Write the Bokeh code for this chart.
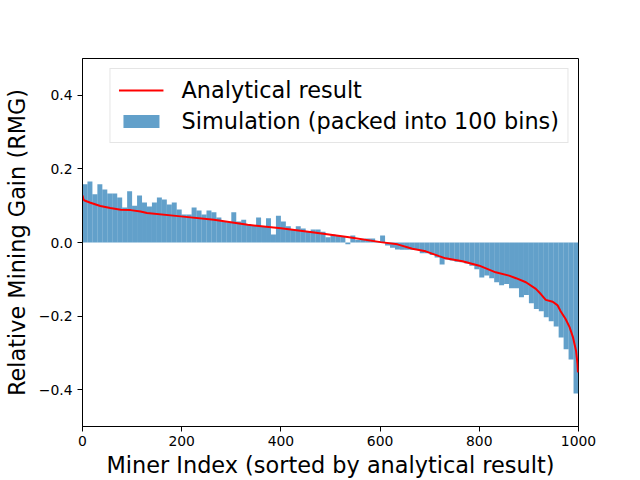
from bokeh.plotting import figure
from bokeh.models import FixedTicker, Range1d, Legend, LegendItem, ColumnDataSource
from bokeh.embed import file_html
from bokeh.resources import INLINE

# ---- data ----
bin_width = 10
bin_values = [
    0.158, 0.166, 0.131, 0.158, 0.144, 0.133, 0.133, 0.122, 0.095, 0.139,
    0.100, 0.128, 0.109, 0.098, 0.109, 0.122, 0.117, 0.103, 0.109, 0.090,
    0.076, 0.076, 0.095, 0.087, 0.076, 0.087, 0.082, 0.068, 0.057, 0.055,
    0.082, 0.057, 0.062, 0.050, 0.045, 0.068, 0.045, 0.066, 0.022, 0.073,
    0.057, 0.044, 0.035, 0.044, 0.038, 0.030, 0.035, 0.035, 0.029, 0.014,
    0.022, 0.019, 0.017, -0.005, 0.019, 0.007, 0.010, 0.011, 0.011, 0.004,
    0.019, -0.008, -0.014, -0.019, -0.020, -0.020, -0.020, -0.020, -0.029, -0.029,
    -0.034, -0.041, -0.060, -0.046, -0.049, -0.052, -0.054, -0.057, -0.063, -0.073,
    -0.095, -0.090, -0.097, -0.108, -0.116, -0.113, -0.124, -0.124, -0.149, -0.143,
    -0.165, -0.181, -0.187, -0.203, -0.214, -0.228, -0.258, -0.290, -0.318, -0.410,
]
bin_centers = [i * bin_width + bin_width / 2 for i in range(len(bin_values))]

line_x = [0, 2, 4, 16, 36, 56, 77, 97, 117, 130, 198, 265, 333, 400, 467, 534,
          601, 635, 665, 692, 719, 732, 766, 800, 833, 860, 874, 894, 914, 924,
          934, 948, 958, 964, 974, 982, 989, 995, 998, 999]
line_y = [0.128, 0.117, 0.114, 0.108, 0.099, 0.094, 0.089, 0.088, 0.084, 0.080,
          0.071, 0.062, 0.048, 0.039, 0.027, 0.015, 0.001, -0.005, -0.017, -0.024,
          -0.037, -0.043, -0.051, -0.063, -0.081, -0.090, -0.097, -0.108, -0.126, -0.140,
          -0.156, -0.161, -0.171, -0.187, -0.208, -0.230, -0.258, -0.294, -0.330, -0.353]

x_ticks = [0, 200, 400, 600, 800, 1000]
y_ticks = [-0.4, -0.2, 0.0, 0.2, 0.4]
y_tick_labels = ["\u22120.4", "\u22120.2", "0.0", "0.2", "0.4"]

FONT = "DejaVu Sans"
BIG = "22.4px"

p = figure(frame_width=496, frame_height=368, output_backend="svg",
           toolbar_location=None, x_range=Range1d(0, 1000), y_range=Range1d(-0.5, 0.5),
           min_border_left=10, min_border_top=58, min_border_right=56, min_border_bottom=10)
p.background_fill_color = "white"
p.border_fill_color = "white"
p.outline_line_color = "black"
p.outline_line_width = 1
p.grid.visible = False

src = ColumnDataSource(dict(x=bin_centers, top=bin_values))
bars = p.vbar(x="x", top="top", bottom=0, width=bin_width, source=src,
              fill_color="#1f77b4", fill_alpha=0.7, line_color=None)
line = p.line(line_x, line_y, line_color="red", line_width=2)

for ax in (p.xaxis[0], p.yaxis[0]):
    ax.major_label_text_font = FONT
    ax.major_label_text_font_size = "13.9px"
    ax.major_label_text_color = "black"
    ax.axis_label_text_font = FONT
    ax.axis_label_text_font_size = BIG
    ax.axis_label_text_font_style = "normal"
    ax.axis_label_text_color = "black"
    ax.minor_tick_line_color = None
    ax.major_tick_in = 0
    ax.major_tick_out = 5
    ax.axis_line_color = "black"
    ax.major_tick_line_color = "black"

p.xaxis.ticker = FixedTicker(ticks=x_ticks)
p.yaxis.ticker = FixedTicker(ticks=y_ticks)
p.yaxis.major_label_overrides = {t: l for t, l in zip(y_ticks, y_tick_labels)}
p.xaxis.axis_label = "Miner Index (sorted by analytical result)"
p.yaxis.axis_label = "Relative Mining Gain (RMG)"
p.xaxis.major_label_standoff = 4
p.xaxis.axis_label_standoff = 3
p.yaxis.major_label_standoff = 5
p.yaxis.axis_label_standoff = 6

legend = Legend(items=[LegendItem(label="Analytical result", renderers=[line]),
                       LegendItem(label="Simulation (packed into 100 bins)", renderers=[bars])],
                location="top_right")
legend.label_text_font = FONT
legend.label_text_font_size = BIG
legend.label_text_color = "black"
legend.glyph_width = 45
legend.glyph_height = 16
legend.label_standoff = 18
legend.spacing = 5
legend.padding = 8
legend.margin = 10
legend.border_line_color = "#cccccc"
legend.border_line_width = 1
legend.background_fill_alpha = 0.8
p.add_layout(legend)

open("out.html", "w").write(file_html(p, INLINE))
